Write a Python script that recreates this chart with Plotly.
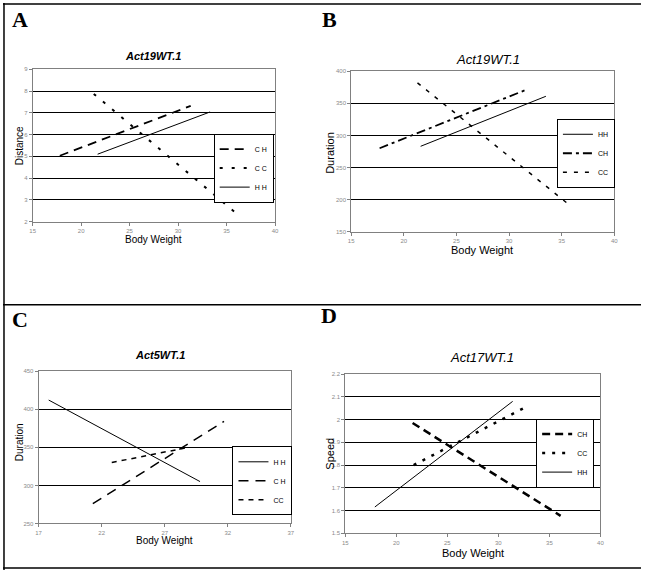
import plotly.graph_objects as go

W, H = 645, 573

# ---- data: regression line endpoints (x = body weight) ----
# panel A: Act19WT.1, Distance
a_ch_x = [17.8, 31.3]
a_ch_y = [5.03, 7.32]
a_cc_x = [21.3, 36.1]
a_cc_y = [7.87, 2.35]
a_hh_x = [21.7, 33.3]
a_hh_y = [5.1, 7.04]

# panel B: Act19WT.1, Duration
b_hh_x = [21.6, 33.5]
b_hh_y = [283, 361]
b_ch_x = [17.7, 31.6]
b_ch_y = [280, 371]
b_cc_x = [21.3, 35.7]
b_cc_y = [382, 192]

# panel C: Act5WT.1, Duration
c_hh_x = [17.8, 29.8]
c_hh_y = [412, 305]
c_ch_x = [21.3, 31.7]
c_ch_y = [276, 384]
c_cc_x = [22.8, 28.6]
c_cc_y = [330, 349]

# panel D: Act17WT.1, Speed
d_ch_x = [21.6, 36.1]
d_ch_y = [1.985, 1.577]
d_cc_x = [21.7, 32.9]
d_cc_y = [1.80, 2.06]
d_hh_x = [17.9, 31.4]
d_hh_y = [1.616, 2.08]

def px(x):
    return x / W

def py(y):
    return 1 - y / H

fig = go.Figure()

def add(xs, ys, name, ax, leg, dash, width):
    fig.add_trace(go.Scatter(
        x=xs, y=ys, mode='lines', name=name,
        line=dict(color='black', dash=dash, width=width),
        xaxis='x' + ax, yaxis='y' + ax, legend=leg,
    ))

# A
add(a_ch_x, a_ch_y, 'C H', '', 'legend', '9px,6px', 1.8)
add(a_cc_x, a_cc_y, 'C C', '', 'legend', '3px,9px', 2)
add(a_hh_x, a_hh_y, 'H H', '', 'legend', 'solid', 1)
# B
add(b_hh_x, b_hh_y, 'HH', '2', 'legend2', 'solid', 1)
add(b_ch_x, b_ch_y, 'CH', '2', 'legend2', '9px,4px,3px,4px', 1.8)
add(b_cc_x, b_cc_y, 'CC', '2', 'legend2', '4px,7px', 1.5)
# C
add(c_hh_x, c_hh_y, 'H H', '3', 'legend3', 'solid', 1)
add(c_ch_x, c_ch_y, 'C H', '3', 'legend3', '10px,7px', 1.5)
add(c_cc_x, c_cc_y, 'CC', '3', 'legend3', '5px,5px', 1.5)
# D
add(d_ch_x, d_ch_y, 'CH', '4', 'legend4', '8px,5px', 2.5)
add(d_cc_x, d_cc_y, 'CC', '4', 'legend4', '3px,7px', 2.5)
add(d_hh_x, d_hh_y, 'HH', '4', 'legend4', 'solid', 1)

tickfont = dict(family='Liberation Sans, Arial', size=6, color='#8a8a8a')

def axes(xdom, ydom, xr, xd, yr, yd):
    xa = dict(domain=xdom, range=xr, dtick=xd, tick0=xr[0], showgrid=False,
              showline=True, linecolor='#808080', linewidth=1, mirror=True,
              ticks='outside', ticklen=3, tickcolor='#808080', tickfont=tickfont,
              zeroline=False, fixedrange=True)
    ya = dict(domain=ydom, range=yr, dtick=yd, tick0=yr[0], showgrid=True,
              gridcolor='black', gridwidth=1,
              showline=True, linecolor='#808080', linewidth=1, mirror=True,
              ticks='outside', ticklen=3, tickcolor='#808080', tickfont=tickfont,
              zeroline=False, fixedrange=True)
    return xa, ya

xa, ya = axes([px(30), px(275)], [py(221), py(67)], [15, 40], 5, [2, 9], 1)
xa2, ya2 = axes([px(352), px(618)], [py(231), py(69)], [15, 40], 5, [150, 400], 50)
xa3, ya3 = axes([px(36), px(291)], [py(526), py(372)], [17, 37], 5, [250, 450], 50)
xa4, ya4 = axes([px(346), px(604)], [py(536), py(375)], [15, 40], 5, [1.5, 2.2], 0.1)
ya['anchor'] = 'x'
xa['anchor'] = 'y'
xa2['anchor'] = 'y2'
ya2['anchor'] = 'x2'
xa3['anchor'] = 'y3'
ya3['anchor'] = 'x3'
xa4['anchor'] = 'y4'
ya4['anchor'] = 'x4'

legfont = dict(family='Liberation Sans, Arial', size=7, color='black')

def legend(x0, y0):
    return dict(x=px(x0), y=py(y0), xanchor='left', yanchor='top',
                bgcolor='white', bordercolor='black', borderwidth=1,
                font=legfont, itemwidth=30, tracegroupgap=0,
                traceorder='normal')

annotations = []

def text(x, y, s, size, bold=False, italic=False, family='Liberation Sans, Arial', angle=0):
    if bold:
        s = '<b>' + s + '</b>'
    if italic:
        s = '<i>' + s + '</i>'
    annotations.append(dict(x=px(x), y=py(y), xref='paper', yref='paper', text=s,
                            showarrow=False, textangle=angle, xanchor='center', yanchor='middle',
                            font=dict(family=family, size=size, color='black')))

serif = 'Liberation Serif, Times New Roman'
# panel letters
text(17, 17, 'A', 22, bold=True, family=serif)
text(330, 17, 'B', 22, bold=True, family=serif)
text(17, 320, 'C', 22, bold=True, family=serif)
text(330, 316, 'D', 22, bold=True, family=serif)
# chart titles
text(152, 54, 'Act19WT.1', 11, bold=True, italic=True)
text(490, 57, 'Act19WT.1', 13, italic=True)
text(159, 356, 'Act5WT.1', 11, bold=True, italic=True)
text(484, 358, 'Act17WT.1', 13, italic=True)
# axis titles
text(152, 239, 'Body Weight', 10)
text(17, 144, 'Distance', 10, angle=-90)
text(484, 250, 'Body Weight', 11)
text(331, 151, 'Duration', 11, angle=-90)
text(163, 543, 'Body Weight', 10)
text(17, 444, 'Duration', 10, angle=-90)
text(475, 556, 'Body Weight', 11)
text(331, 455, 'Speed', 11, angle=-90)

# outer frame lines
frame = dict(color='black', width=1.5)
shapes = [
    dict(type='line', xref='paper', yref='paper', x0=0, x1=1, y0=py(1), y1=py(1), line=frame),
    dict(type='line', xref='paper', yref='paper', x0=px(1), x1=px(1), y0=0, y1=1, line=frame),
    dict(type='line', xref='paper', yref='paper', x0=0, x1=1, y0=py(305), y1=py(305), line=frame),
    dict(type='line', xref='paper', yref='paper', x0=0, x1=1, y0=py(571), y1=py(571), line=frame),
]

fig.update_layout(
    width=W, height=H,
    margin=dict(l=0, r=0, t=0, b=0),
    paper_bgcolor='white', plot_bgcolor='white',
    showlegend=True,
    xaxis=xa, yaxis=ya, xaxis2=xa2, yaxis2=ya2,
    xaxis3=xa3, yaxis3=ya3, xaxis4=xa4, yaxis4=ya4,
    legend=legend(213, 132),
    legend2=legend(560, 117),
    legend3=legend(232, 448),
    legend4=legend(539, 420),
    annotations=annotations,
    shapes=shapes,
)

fig.write_html(
    "out.html",
    config={'displayModeBar': False, 'staticPlot': True},
    post_script="document.body.style.margin='0';document.body.style.overflow='hidden';",
)
